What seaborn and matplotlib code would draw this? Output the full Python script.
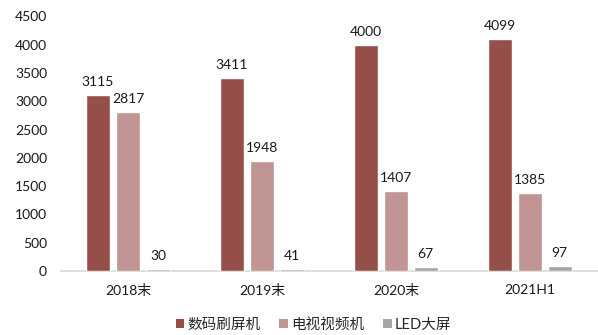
import matplotlib
matplotlib.use("Agg")
import matplotlib.pyplot as plt
import seaborn as sns
import pandas as pd
from matplotlib.patches import Patch

categories = ["2018末", "2019末", "2020末", "2021H1"]
series_names = ["数码刷屏机", "电视视频机", "LED大屏"]
digital = [3115, 3411, 4000, 4099]
tv_video = [2817, 1948, 1407, 1385]
led = [30, 41, 67, 97]
colors = ["#954F48", "#C09594", "#A6A6A6"]

rows = []
for name, vals in zip(series_names, [digital, tv_video, led]):
    for cat, v in zip(categories, vals):
        rows.append({"period": cat, "series": name, "value": v})
df = pd.DataFrame(rows)

sns.set_theme(style="white")
plt.rcParams["font.family"] = ["Lato", "Noto Sans CJK SC", "DejaVu Sans"]

fig = plt.figure(figsize=(5.98, 3.35), dpi=100)
ax = fig.add_axes([0.102, 0.191, 0.896, 0.760])

sns.barplot(data=df, x="period", y="value", hue="series", order=categories,
            hue_order=series_names, palette=colors, width=0.67, gap=0.2,
            saturation=1, ax=ax, legend=False)

for container in ax.containers:
    ax.bar_label(container, fmt="%d", padding=5, fontsize=10, color="#1a1a1a")

ax.set_ylim(0, 4500)
ax.set_yticks(range(0, 4501, 500))
ax.set_xlim(-0.5, 3.5)
ax.set_xlabel("")
ax.set_ylabel("")
ax.tick_params(axis="both", labelsize=10, colors="#1a1a1a", length=0)
ax.tick_params(axis="x", pad=9)
ax.tick_params(axis="y", pad=10)
for s in ["top", "right", "left"]:
    ax.spines[s].set_visible(False)
ax.spines["bottom"].set_color("#D9D9D9")
ax.spines["bottom"].set_linewidth(1.2)
ax.spines["bottom"].set_zorder(0.5)

handles = [Patch(facecolor=c, edgecolor="none") for c in colors]
fig.legend(handles, series_names, loc="center", bbox_to_anchor=(0.524, 0.03),
           ncol=3, frameon=False, fontsize=10.5, handlelength=0.6, handleheight=0.6,
           handletextpad=0.2, columnspacing=1.3)

fig.savefig("out.png", dpi=100)
